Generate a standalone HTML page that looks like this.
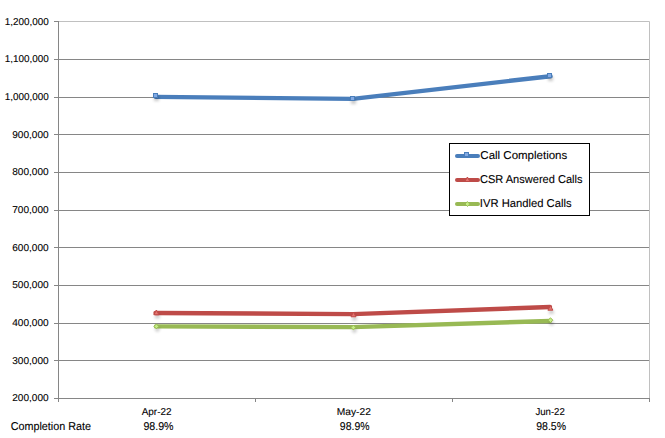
<!DOCTYPE html>
<html><head><meta charset="utf-8"><title>Call Completions Chart</title>
<style>
html,body{margin:0;padding:0;background:#fff;}
body{width:665px;height:438px;overflow:hidden;}
svg{display:block;}
text{font-family:"Liberation Sans",Arial,sans-serif;fill:#000;stroke:#000;stroke-width:0.1px;}
.ax{font-size:9.95px;stroke:none;}
.lg{font-size:11.4px;}
</style></head>
<body>
<svg width="665" height="438" viewBox="0 0 665 438" style="text-rendering:geometricPrecision">
<defs>
<filter id="sh" x="-20%" y="-50%" width="140%" height="200%">
<feGaussianBlur in="SourceAlpha" stdDeviation="1.6"/>
<feOffset dx="0.5" dy="3" result="b"/>
<feComponentTransfer><feFuncA type="linear" slope="0.22"/></feComponentTransfer>
<feMerge><feMergeNode/><feMergeNode in="SourceGraphic"/></feMerge>
</filter>
</defs>
<rect width="665" height="438" fill="#fff"/>
<!-- gridlines -->
<g stroke="#868686" stroke-width="1" fill="none">
<path d="M58 59.5H649M58 97.5H649M58 134.5H649M58 172.5H649M58 210.5H649M58 247.5H649M58 285.5H649M58 323.5H649M58 360.5H649"/>
</g>
<!-- plot border top/right -->
<path d="M58 21.5H649.5V398" stroke="#c0c0c0" stroke-width="1" fill="none"/>
<!-- axes -->
<g stroke="#868686" stroke-width="1" fill="none">
<path d="M58.5 21V402"/>
<path d="M54 398.5H650"/>
<path d="M54 21.5H58M54 59.5H58M54 97.5H58M54 134.5H58M54 172.5H58M54 210.5H58M54 247.5H58M54 285.5H58M54 323.5H58M54 360.5H58"/>
<path d="M255.5 398V402M452.5 398V402M649.5 398V402"/>
</g>
<!-- y labels -->
<g class="ax">
<text id="y0" x="4.64" y="25" textLength="44.06" lengthAdjust="spacingAndGlyphs">1,200,000</text>
<text id="y1" x="4.64" y="62" textLength="44.06" lengthAdjust="spacingAndGlyphs">1,100,000</text>
<text id="y2" x="4.64" y="100" textLength="44.06" lengthAdjust="spacingAndGlyphs">1,000,000</text>
<text id="y3" x="12.25" y="138" textLength="36.40" lengthAdjust="spacingAndGlyphs">900,000</text>
<text id="y4" x="12.25" y="175" textLength="36.40" lengthAdjust="spacingAndGlyphs">800,000</text>
<text id="y5" x="12.25" y="213" textLength="36.40" lengthAdjust="spacingAndGlyphs">700,000</text>
<text id="y6" x="12.25" y="251" textLength="36.40" lengthAdjust="spacingAndGlyphs">600,000</text>
<text id="y7" x="12.25" y="288" textLength="36.40" lengthAdjust="spacingAndGlyphs">500,000</text>
<text id="y8" x="12.25" y="326" textLength="36.40" lengthAdjust="spacingAndGlyphs">400,000</text>
<text id="y9" x="12.25" y="364" textLength="36.40" lengthAdjust="spacingAndGlyphs">300,000</text>
<text id="y10" x="12.25" y="401" textLength="36.40" lengthAdjust="spacingAndGlyphs">200,000</text>
</g>
<!-- category labels -->
<g class="ax">
<text id="cA" x="141.72" y="415" textLength="29.79" lengthAdjust="spacingAndGlyphs">Apr-22</text>
<text id="cM" x="336.78" y="415" textLength="34.13" lengthAdjust="spacingAndGlyphs">May-22</text>
<text id="cJ" x="535.41" y="415" textLength="29.42" lengthAdjust="spacingAndGlyphs">Jun-22</text>
</g>
<g class="lg">
<text id="CR" x="10.65" y="430" textLength="80.31" lengthAdjust="spacingAndGlyphs">Completion Rate</text>
<text id="r1" x="143.38" y="430" textLength="30.18" lengthAdjust="spacingAndGlyphs">98.9%</text>
<text id="r2" x="339.86" y="430" textLength="29.64" lengthAdjust="spacingAndGlyphs">98.9%</text>
<text id="r3" x="536.21" y="430" textLength="29.80" lengthAdjust="spacingAndGlyphs">98.5%</text>
</g>
<!-- series -->
<g fill="none" stroke-width="4.4" stroke-linejoin="round" stroke-linecap="round">
<path d="M155.8 96.9L352.8 98.9L550.5 76.2" stroke="#4a7ebb"/>
<path d="M155.5 313L353 314.1L550 307" stroke="#be4b48"/>
<path d="M156 326.4L353 327.1L550 321" stroke="#98b954"/>
</g>
<!-- markers -->
<g filter="url(#sh)">
<g fill="#82a9e3" stroke="#4a7ebb" stroke-width="1">
<rect x="153.5" y="93.5" width="4" height="4"/>
<rect x="350.5" y="96.5" width="4" height="4"/>
<rect x="547.5" y="73.5" width="4" height="4"/>
</g>
<g fill="#e4736f" stroke="#be4b48" stroke-width="1">
<path d="M156.4 310L158.9 314.8H153.9Z"/>
<path d="M353.5 312L356 316.8H351Z"/>
<path d="M550.4 305.5L552.9 310.2H547.9Z"/>
</g>
<g fill="#c4ee84" stroke="#98b954" stroke-width="1">
<path d="M156.4 324L158.8 326.4L156.4 328.8L154 326.4Z"/>
<path d="M353.4 325.1L355.8 327.5L353.4 329.9L351 327.5Z"/>
<path d="M550.5 317.8L552.9 320.2L550.5 322.6L548.1 320.2Z"/>
</g>
</g>
<!-- legend -->
<rect x="449.5" y="143.5" width="140" height="72" fill="#fff" stroke="#000" stroke-width="1"/>
<g fill="none" stroke-width="4" stroke-linecap="round">
<path d="M457 156H478" stroke="#4a7ebb"/>
<path d="M457 180H478" stroke="#be4b48"/>
<path d="M457 204H478" stroke="#98b954"/>
</g>
<rect x="464.5" y="152.5" width="4" height="4" fill="#82a9e3" stroke="#4a7ebb" stroke-width="1"/>
<path d="M467.4 177L469.9 181.5H464.9Z" fill="#e4736f" stroke="#be4b48" stroke-width="1"/>
<path d="M467.4 201.6L469.8 204L467.4 206.4L465 204Z" fill="#c4ee84" stroke="#98b954" stroke-width="1"/>
<g class="lg">
<text id="L1" x="480.34" y="159" textLength="86.95" lengthAdjust="spacingAndGlyphs">Call Completions</text>
<text id="L2" x="479.98" y="183" textLength="102.49" lengthAdjust="spacingAndGlyphs">CSR Answered Calls</text>
<text id="L3" x="479.81" y="207" textLength="91.76" lengthAdjust="spacingAndGlyphs">IVR Handled Calls</text>
</g>
</svg>
</body></html>
